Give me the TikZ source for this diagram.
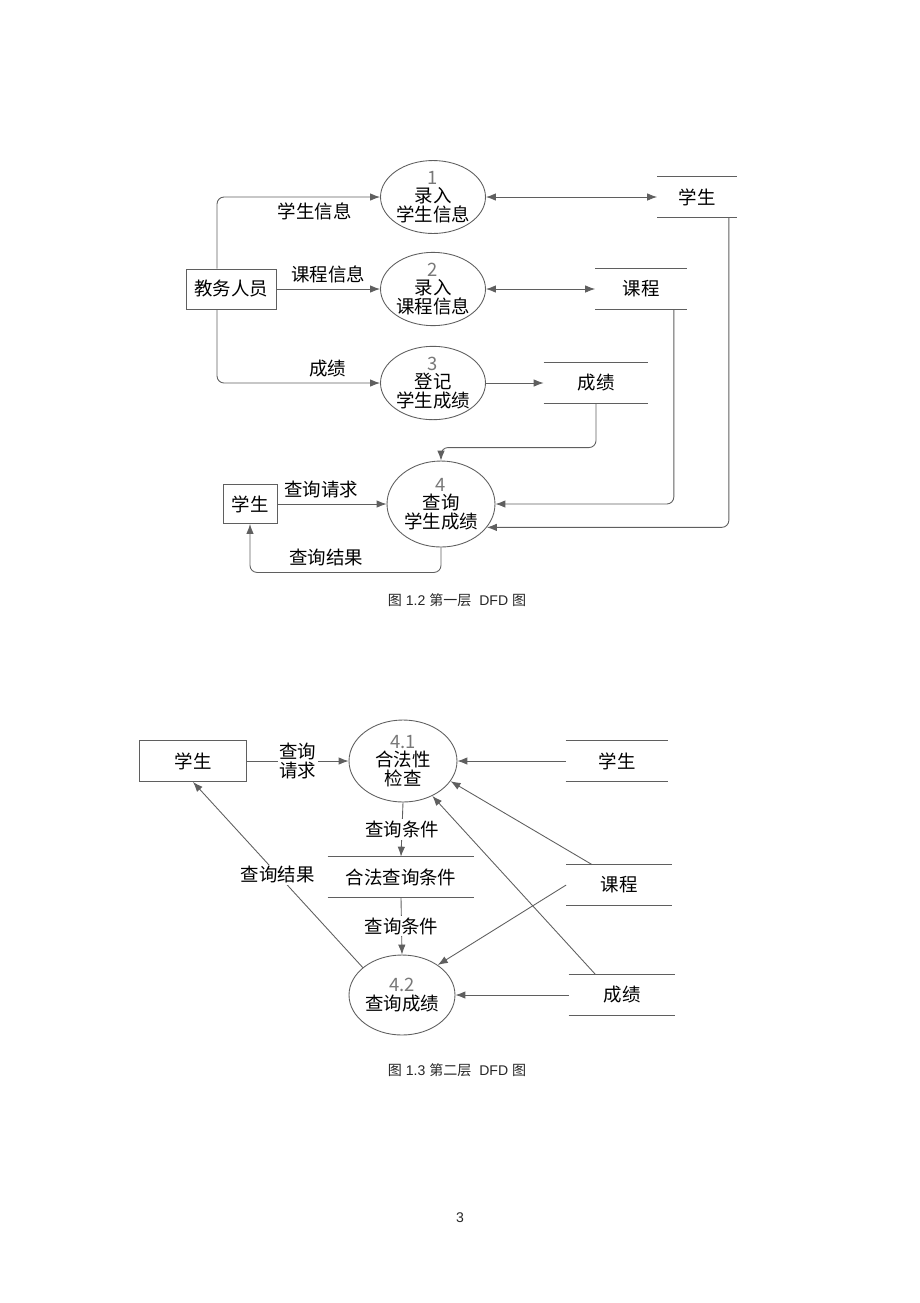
\documentclass[tikz,border=0pt]{standalone}
\usepackage{fontspec}
\setmainfont{Liberation Sans}
\newfontfamily\cjk{Noto Sans CJK SC}
\usetikzlibrary{shapes.geometric,arrows.meta}
\definecolor{linegray}{RGB}{95,95,95}
\definecolor{numgray}{RGB}{120,120,120}

\begin{document}
\begin{tikzpicture}[x=0.02cm,y=-0.02cm,>={Latex[length=2mm,width=1.5mm]},
  lbl/.style={font={\cjk\fontsize{10.5}{10.5}\selectfont}},
  flow/.style={draw=linegray, line width=0.5pt},
  proc/.style={lbl, flow, ellipse, inner sep=0pt, align=center},
  ext/.style={lbl, flow, inner sep=0pt},
  store/.style={lbl, inner sep=0pt, minimum height=0.8cm},
  captxt/.style={font=\fontsize{8}{9}\selectfont, text=black!85}]
\useasboundingbox (0,0) rectangle (920,1303);
%
% first level
\node[ext, minimum width=1.8cm, minimum height=0.8cm] (edu) at (231,289) {教务人员};
\node[proc, minimum width=2.1cm, minimum height=1.4cm] (p1) at (433,197) {{\color{numgray}1}\\录入\\学生信息};
\node[proc, minimum width=2.1cm, minimum height=1.4cm] (p2) at (433,289) {{\color{numgray}2}\\录入\\课程信息};
\node[proc, minimum width=2.1cm, minimum height=1.44cm] (p3) at (433,383) {{\color{numgray}3}\\登记\\学生成绩};
\node[proc, minimum width=2.16cm, minimum height=1.72cm] (p4) at (441,504) {{\color{numgray}4}\\查询\\学生成绩};
\node[ext, minimum width=1.08cm, minimum height=0.78cm] (qstu) at (250,504) {学生};
%
\node[store, minimum width=1.58cm] (stdb) at (697,197) {学生};
\node[store, minimum width=1.82cm] (crsdb) at (641,289) {课程};
\node[store, minimum width=2.08cm] (scdb) at (596,383) {成绩};
%
\draw[->, flow, rounded corners=4pt] ([xshift=-0.28cm]edu.north) |- node[lbl, pos=0.8, below]{学生信息} (p1.west);
\draw[->, flow] (edu.east) -- node[lbl, above]{课程信息} (p2.west);
\draw[->, flow, rounded corners=4pt] ([xshift=-0.28cm]edu.south) |- node[lbl, pos=0.84, above]{成绩} (p3.west);
%
\draw[<->, flow] (p1.east) -- (stdb.west);
\draw[<->, flow] (p2.east) -- (crsdb.west);
\draw[->, flow] (p3.east) -- (scdb.west);
%
\draw[->, flow, rounded corners=4pt] (scdb.south) |- ([yshift=0.26cm]p4.north) -- (p4.north);
\draw[->, flow, rounded corners=4pt] ([xshift=-0.26cm]crsdb.south east) |- (p4.east);
\draw[->, flow, rounded corners=4pt] ([xshift=-0.16cm]stdb.south east) |- (p4.-27);
%
\draw[->, flow] (qstu.east) -- node[lbl, pos=0.4, above]{查询请求} (p4.west);
\draw[->, flow, rounded corners=4pt] (p4.south) -- ++(0,25) -| node[lbl, pos=0.3, above]{查询结果} (qstu.south);
%
\node[captxt] (cap1) at (457,600) {{\cjk 图} 1.2 {\cjk 第一层}\ \ DFD {\cjk 图}};
%
% second level
\node[ext, minimum width=2.14cm, minimum height=0.82cm] (qstu2) at (193,761) {学生};
\node[proc, minimum width=2.16cm, minimum height=1.64cm] (p41) at (403,761) {{\color{numgray}4.1}\\合法性\\检查};
\node[proc, minimum width=2.12cm, minimum height=1.6cm] (p42) at (402,995) {{\color{numgray}4.2}\\查询成绩};
\node[store, minimum width=2.04cm] (stdb2) at (617,761) {学生};
\node[store, minimum width=2.92cm] (legal) at (401,877) {合法查询条件};
\node[store, minimum width=2.1cm] (crsdb2) at (619,885) {课程};
\node[store, minimum width=2.12cm] (scdb2) at (622,995) {成绩};
%
\draw[->, flow] (qstu2.east) -- node[lbl, fill=white, align=center, inner sep=1pt]{查询\\请求} (p41.west);
\draw[->, flow] (stdb2.west) -- (p41.east);
\draw[->, flow] (p41.south) -- node[lbl, fill=white, inner sep=1pt]{查询条件} (legal.north);
\draw[->, flow] (legal.south) -- node[lbl, fill=white, inner sep=1pt]{查询条件} (p42.north);
\draw[->, flow] (crsdb2.west) -- (p42.40);
\draw[->, flow] ([xshift=0.52cm]crsdb2.north west) -- (p41.-23);
\draw[->, flow] ([xshift=0.54cm]scdb2.north west) -- (p41.-50);
\draw[->, flow] (scdb2.west) -- (p42.east);
\draw[->, flow] (p42.145) -- node[lbl, fill=white, inner sep=1pt]{查询结果} (qstu2.south);
%
\node[captxt] (cap2) at (457,1070) {{\cjk 图} 1.3 {\cjk 第二层}\ \ DFD {\cjk 图}};
%
% data stores: two lines
\foreach \s in {stdb,crsdb,scdb,stdb2,legal,crsdb2,scdb2}
  \draw[flow] (\s.north west) -- (\s.north east) (\s.south west) -- (\s.south east);
%
\node[captxt] (pageno) at (460,1218) {3};
\end{tikzpicture}
\end{document}
